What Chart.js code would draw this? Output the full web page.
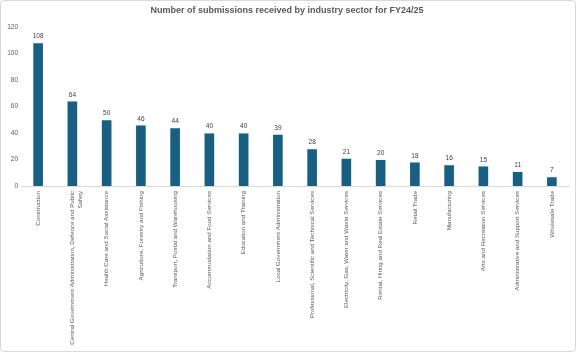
<!DOCTYPE html>
<html lang="en">
<head>
    <meta charset="UTF-8">
    <title>Submissions by industry sector</title>
    <script src="https://cdn.jsdelivr.net/npm/chart.js"></script>
    <style>
        body { margin: 0; background: #fff; }
        .frame {
            width: 574px; height: 350px;
            border: 1px solid #d9d9d9; border-radius: 4px;
            overflow: hidden;
        }
    </style>
</head>
<body>
    <div class="frame">
        <canvas id="barChart" width="574" height="350"></canvas>
    </div>
    <script>
        const sectors = [
            'Construction',
            ['Central Government Administration, Defence and Public', 'Safety'],
            'Health Care and Social Assistance',
            'Agriculture, Forestry and Fishing',
            'Transport, Postal and Warehousing',
            'Accommodation and Food Services',
            'Education and Training',
            'Local Government Administration',
            'Professional, Scientific and Technical Services',
            'Electricity, Gas, Water and Waste Services',
            'Rental, Hiring and Real Estate Services',
            'Retail Trade',
            'Manufacturing',
            'Arts and Recreation Services',
            'Administrative and Support Services',
            'Wholesale Trade'
        ];
        const submissions = [108, 64, 50, 46, 44, 40, 40, 39, 28, 21, 20, 18, 16, 15, 11, 7];
        const yTicks = [0, 20, 40, 60, 80, 100, 120];

        const fontFamily = "'Liberation Sans', Arial, sans-serif";

        // draws the value above each bar
        const valueLabels = {
            id: 'valueLabels',
            afterDatasetsDraw(chart) {
                const ctx = chart.ctx;
                const meta = chart.getDatasetMeta(0);
                ctx.save();
                ctx.font = '6.5px ' + fontFamily;
                ctx.fillStyle = '#404040';
                ctx.textAlign = 'center';
                ctx.textBaseline = 'bottom';
                meta.data.forEach((bar, i) => {
                    ctx.fillText(submissions[i], bar.x, bar.y - 3);
                });
                ctx.restore();
            }
        };

        const ctxBar = document.getElementById('barChart').getContext('2d');
        const barChart = new Chart(ctxBar, {
            type: 'bar',
            data: {
                labels: sectors,
                datasets: [{
                    label: 'Submissions',
                    data: submissions,
                    backgroundColor: '#185f82',
                    borderColor: '#cfe0ea',
                    borderWidth: { left: 0.5, right: 0.5, top: 0.5, bottom: 0 },
                    barPercentage: 0.31,
                    categoryPercentage: 1
                }]
            },
            options: {
                responsive: false,
                animation: false,
                layout: { padding: { left: 4, right: 6, top: 4, bottom: 0 } },
                plugins: {
                    legend: { display: false },
                    tooltip: { enabled: false },
                    title: {
                        display: true,
                        text: 'Number of submissions received by industry sector for FY24/25',
                        color: '#595959',
                        font: { family: fontFamily, size: 9, weight: 'bold' },
                        padding: { top: 0, bottom: 11 }
                    }
                },
                scales: {
                    x: {
                        grid: { display: false, drawTicks: false },
                        border: { display: true, color: '#d9d9d9' },
                        ticks: {
                            autoSkip: false,
                            minRotation: 90,
                            maxRotation: 90,
                            padding: 5,
                            color: '#595959',
                            font: { family: fontFamily, size: 6.2 }
                        },
                        afterFit(scale) { scale.height = 165; }
                    },
                    y: {
                        min: 0,
                        max: 120,
                        grid: { display: false, drawTicks: false },
                        border: { display: false },
                        afterBuildTicks(scale) {
                            scale.ticks = yTicks.map(v => ({ value: v }));
                        },
                        ticks: {
                            padding: 3,
                            color: '#595959',
                            font: { family: fontFamily, size: 6.5 }
                        },
                        afterFit(scale) { scale.width = 16; }
                    }
                }
            },
            plugins: [valueLabels]
        });
    </script>
</body>
</html>
